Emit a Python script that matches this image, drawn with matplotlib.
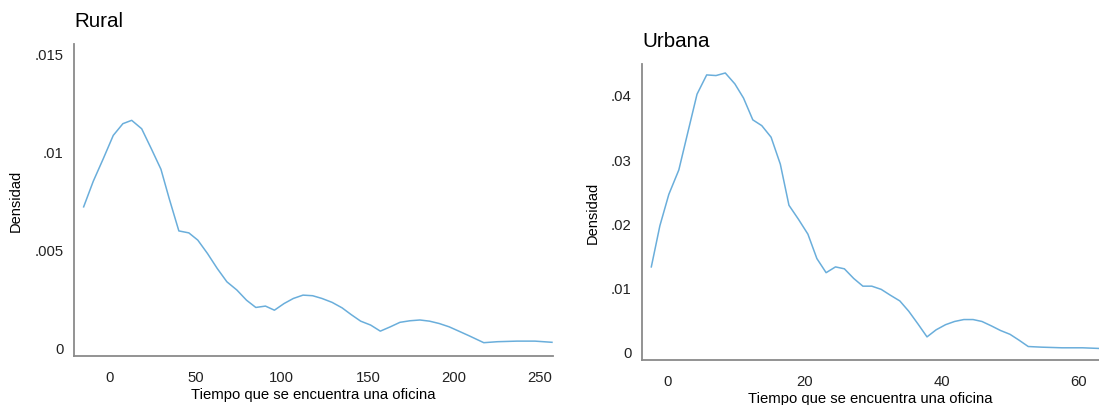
import numpy as np
import matplotlib.pyplot as plt

plt.rcParams['font.family'] = ['Liberation Sans', 'DejaVu Sans']

# densidad estimada, zona rural
rural_x = [-15.1, -9.5, -3.7, 2.1, 7.7, 12.8, 18.6, 24.2, 29.8, 34.6, 40.2, 46.0,
           51.2, 56.8, 62.5, 68.1, 73.9, 79.5, 84.9, 90.5, 95.7, 101.3, 106.7,
           112.3, 117.9, 123.3, 129.2, 135.0, 140.2, 145.8, 151.6, 157.2, 163.0,
           168.6, 174.4, 180.2, 185.8, 191.4, 197.2, 202.8, 208.6, 217.3, 225.2,
           236.6, 247.0, 256.9]
rural_y = [0.00718, 0.00849, 0.00964, 0.01083, 0.01143, 0.0116, 0.01117, 0.01015,
           0.0091, 0.0076, 0.00595, 0.00585, 0.00548, 0.0048, 0.00403, 0.00335,
           0.00293, 0.00241, 0.00204, 0.00211, 0.0019, 0.00224, 0.0025, 0.00267,
           0.00264, 0.0025, 0.0023, 0.00202, 0.00168, 0.00134, 0.00114, 0.00083,
           0.00105, 0.00128, 0.00136, 0.0014, 0.00134, 0.00122, 0.00105, 0.00083,
           0.0006, 0.00024, 0.00029, 0.00032, 0.00032, 0.00026]

# densidad estimada, zona urbana
urb_x = [-2.41, -1.16, 0.15, 1.61, 2.87, 4.27, 5.68, 7.04, 8.4, 9.8, 11.06, 12.42,
         13.73, 15.09, 16.44, 17.7, 19.1, 20.47, 21.78, 23.13, 24.5, 25.8, 27.16,
         28.5, 29.8, 31.18, 32.5, 33.9, 35.2, 36.56, 37.87, 39.2, 40.58, 41.9,
         43.25, 44.6, 45.9, 47.3, 48.6, 50.0, 51.3, 52.66, 54.6, 57.6, 60.6, 63.0]
urb_y = [0.0132, 0.0196, 0.0245, 0.0283, 0.0339, 0.0401, 0.0431, 0.0430, 0.0434,
         0.0417, 0.0395, 0.0361, 0.0352, 0.0334, 0.0292, 0.0228, 0.0206, 0.0183,
         0.0145, 0.0123, 0.0132, 0.0129, 0.0114, 0.0102, 0.0102, 0.0097, 0.0088,
         0.0079, 0.0063, 0.0043, 0.0023, 0.0034, 0.0042, 0.0047, 0.0050, 0.0050,
         0.0047, 0.0040, 0.0033, 0.0027, 0.0018, 0.0008, 0.0007, 0.0006, 0.0006,
         0.0005]

rural_ticks = [0, 50, 100, 150, 200, 250]
rural_yticks = [0, 0.005, 0.01, 0.015]
rural_ylabels = ['0', '.005', '.01', '.015']
urb_ticks = [0, 20, 40, 60]
urb_yticks = [0, 0.01, 0.02, 0.03, 0.04]
urb_ylabels = ['0', '.01', '.02', '.03', '.04']

W, H = 1099, 406
fig = plt.figure(figsize=(W / 100, H / 100), dpi=100)

ax1 = fig.add_axes([74 / W, 1 - 357 / H, (553 - 74) / W, (357 - 45) / H])
ax2 = fig.add_axes([642 / W, 1 - 361 / H, (1099 - 642) / W, (361 - 65) / H])

line_col = '#6aaedb'
spine_col = '#8a8a8a'


def style(ax, title, xt, yt, ylab):
    for s in ['top', 'right']:
        ax.spines[s].set_visible(False)
    for s in ['left', 'bottom']:
        ax.spines[s].set_color(spine_col)
        ax.spines[s].set_linewidth(1.3)
    ax.set_xticks(xt)
    ax.set_yticks(yt)
    ax.set_yticklabels(ylab)
    ax.tick_params(length=0, labelsize=10.7, colors='#222222')
    ax.tick_params(axis='y', pad=7.6)
    ax.tick_params(axis='x', pad=10)
    ax.set_xlabel('Tiempo que se encuentra una oficina', fontsize=10.7, labelpad=2)
    ax.set_ylabel('Densidad', fontsize=10.5, labelpad=8)
    ax.set_title(title, loc='left', fontsize=14.8, pad=13)


ax1.plot(rural_x, rural_y, color=line_col, lw=1.1)
style(ax1, 'Rural', rural_ticks, rural_yticks, rural_ylabels)
ax1.set_xlim(-20.7, 257.5)
ax1.set_ylim(-0.00044, 0.0155)

ax2.plot(urb_x, urb_y, color=line_col, lw=1.1)
style(ax2, 'Urbana', urb_ticks, urb_yticks, urb_ylabels)
ax2.set_xlim(-3.77, 63.0)
ax2.set_ylim(-0.0013, 0.0448)

fig.savefig('out.png', dpi=100)
